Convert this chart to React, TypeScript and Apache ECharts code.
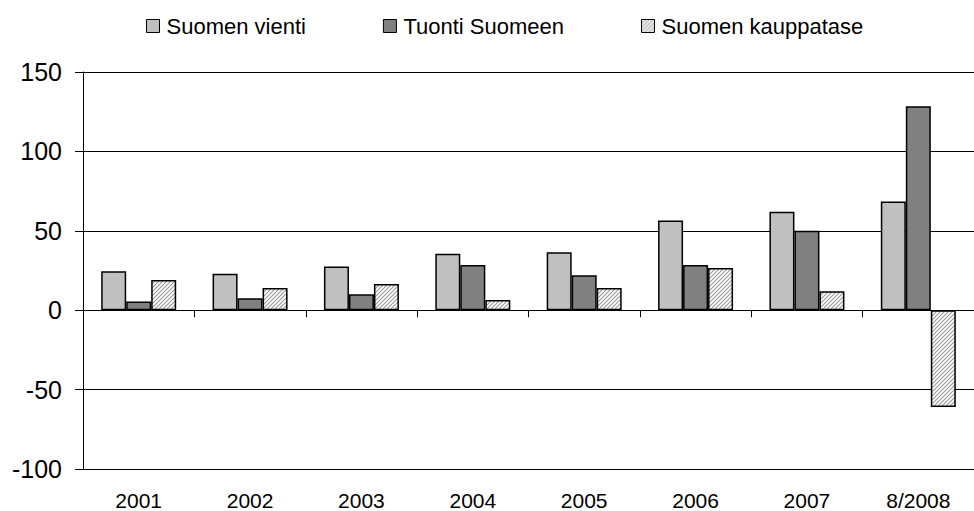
import React, { useEffect, useRef } from "react";
import * as echarts from "echarts";

const categories = ["2001", "2002", "2003", "2004", "2005", "2006", "2007", "8/2008"];
const vienti = [24.5, 23, 27.5, 35.5, 36.5, 56.5, 62, 68.5];
const tuonti = [5.5, 7.5, 10, 28.5, 22, 28.5, 50, 128.5];
const kauppatase = [19, 14, 16.5, 6.5, 14, 26.5, 12, -61];
const seriesNames = ["Suomen vienti", "Tuonti Suomeen", "Suomen kauppatase"];

const FONT = '"Liberation Sans", Arial, sans-serif';

function makeHatch(): HTMLCanvasElement {
  const c = document.createElement("canvas");
  c.width = 4;
  c.height = 4;
  const ctx = c.getContext("2d")!;
  ctx.fillStyle = "#ffffff";
  ctx.fillRect(0, 0, 4, 4);
  ctx.strokeStyle = "#999999";
  ctx.lineWidth = 1.1;
  ctx.beginPath();
  ctx.moveTo(0, 4);
  ctx.lineTo(4, 0);
  ctx.moveTo(-1, 1);
  ctx.lineTo(1, -1);
  ctx.moveTo(3, 5);
  ctx.lineTo(5, 3);
  ctx.stroke();
  return c;
}

export default function App() {
  const ref = useRef<HTMLDivElement>(null);
  useEffect(() => {
    if (!ref.current) return;
    const chart = echarts.init(ref.current, undefined, { renderer: "svg" });
    const hatch = makeHatch();
    const border = { borderColor: "#000", borderWidth: 1.5 };
    chart.setOption({
      animation: false,
      backgroundColor: "#ffffff",
      legend: {
        left: 141,
        top: 10,
        icon: "rect",
        itemWidth: 13,
        itemHeight: 13,
        itemGap: 77,
        itemStyle: { borderColor: "#000", borderWidth: 1 },
        textStyle: { fontFamily: FONT, fontSize: 22, color: "#000", padding: [0, 0, 0, 2] },
        data: seriesNames,
      },
      grid: { left: 83, right: -9, top: 72, bottom: 42 },
      xAxis: [
        {
          type: "category",
          data: categories,
          position: "bottom",
          axisLine: { show: false, onZero: false },
          axisTick: { show: false },
          axisLabel: { fontFamily: FONT, fontSize: 21, color: "#000", margin: 21 },
        },
        {
          type: "category",
          data: categories,
          position: "bottom",
          axisLine: { show: true, onZero: true, lineStyle: { color: "#000", width: 1 } },
          axisTick: { show: true, length: 7, lineStyle: { color: "#000" } },
          axisLabel: { show: false },
        },
      ],
      yAxis: {
        type: "value",
        min: -100,
        max: 150,
        interval: 50,
        axisLine: { show: true, lineStyle: { color: "#000", width: 1 } },
        axisTick: { show: true, length: 8, lineStyle: { color: "#000" } },
        axisLabel: { fontFamily: FONT, fontSize: 25, color: "#000", margin: 21 },
        splitLine: { show: true, lineStyle: { color: "#000", width: 1 } },
      },
      series: [
        {
          name: seriesNames[0],
          type: "bar",
          data: vienti,
          barWidth: 25,
          barGap: "0%",
          itemStyle: { color: "#c0c0c0", ...border },
        },
        {
          name: seriesNames[1],
          type: "bar",
          data: tuonti,
          barWidth: 25,
          barGap: "0%",
          itemStyle: { color: "#808080", ...border },
        },
        {
          name: seriesNames[2],
          type: "bar",
          data: kauppatase,
          barWidth: 25,
          barGap: "0%",
          itemStyle: { color: { image: hatch, repeat: "repeat" }, ...border },
        },
      ],
    });
    return () => chart.dispose();
  }, []);
  return (
    <div
      ref={ref}
      style={{ position: "fixed", left: 0, top: 0, width: 974, height: 511, background: "#fff" }}
    />
  );
}
